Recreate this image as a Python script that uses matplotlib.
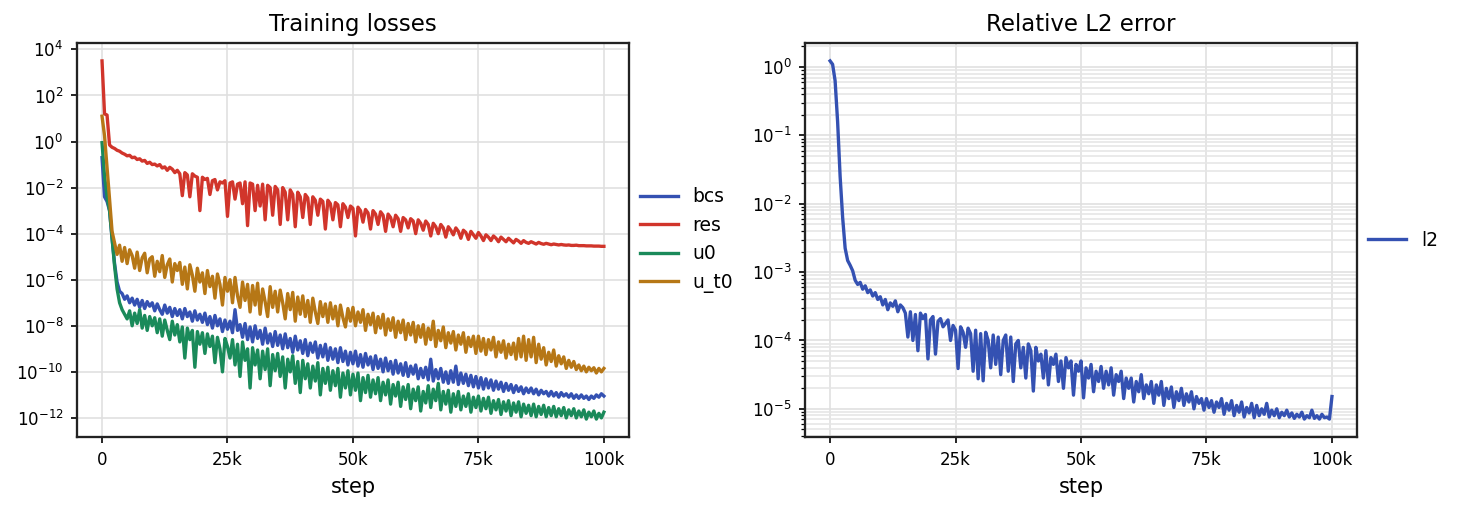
import numpy as np
import matplotlib
matplotlib.use("Agg")
import matplotlib.pyplot as plt
from matplotlib.ticker import FuncFormatter, LogLocator, NullLocator

# training steps (logged every 500 steps)
steps = np.arange(0, 100001, 500)

# log10 of each loss
bcs_log = [
    -0.70, -2.40, -2.60, -3.00, -4.20, -5.30, -6.10, -6.50, -6.60, -6.85,
    -6.70, -7.00, -6.80, -7.10, -6.85, -7.20, -6.90, -7.25, -6.95, -7.15,
    -7.00, -7.35, -7.05, -7.30, -7.50, -7.10, -7.45, -7.20, -7.60, -7.25,
    -7.55, -7.30, -7.70, -7.25, -7.60, -7.40, -7.80, -7.35, -7.75, -7.50,
    -7.85, -7.45, -7.95, -7.60, -8.10, -7.55, -8.00, -7.70, -8.25, -7.75,
    -8.15, -7.80, -8.30, -7.30, -8.20, -7.95, -8.50, -7.90, -8.60, -8.05,
    -8.70, -8.00, -8.55, -8.20, -8.80, -8.10, -8.75, -8.35, -8.90, -8.25,
    -8.85, -8.40, -9.00, -8.35, -8.95, -8.55, -9.15, -8.45, -9.05, -8.65,
    -9.20, -8.60, -9.30, -8.75, -9.15, -8.70, -9.40, -8.85, -9.35, -8.80,
    -9.50, -8.95, -9.45, -9.00, -9.60, -8.95, -9.55, -9.10, -9.70, -9.15,
    -9.65, -9.10, -9.75, -9.25, -9.80, -9.20, -9.70, -9.35, -9.90, -9.30,
    -9.85, -9.45, -10.00, -9.40, -9.95, -9.55, -10.10, -9.50, -10.05, -9.65,
    -10.15, -9.60, -10.20, -9.75, -10.10, -9.70, -10.30, -9.85, -10.25, -9.80,
    -10.35, -9.45, -10.40, -9.90, -10.30, -9.85, -10.45, -10.00, -10.50, -9.95,
    -10.45, -9.75, -10.55, -10.05, -10.50, -10.10, -10.60, -10.15, -10.65, -10.20,
    -10.70, -10.25, -10.75, -10.30, -10.70, -10.35, -10.80, -10.40, -10.75, -10.45,
    -10.85, -10.50, -10.80, -10.55, -10.90, -10.60, -10.85, -10.65, -10.95, -10.70,
    -10.90, -10.70, -10.95, -10.75, -11.00, -10.80, -10.95, -10.85, -11.05, -10.85,
    -11.05, -10.90, -11.10, -10.90, -11.05, -10.95, -11.10, -10.95, -11.15, -11.00,
    -11.15, -11.00, -11.15, -11.05, -11.20, -11.05, -11.15, -11.00, -11.10, -10.95,
    -11.05,
]

res_log = [
    3.50, 1.20, 1.15, -0.15, -0.25, -0.30, -0.38, -0.42, -0.50, -0.55,
    -0.62, -0.60, -0.70, -0.68, -0.78, -0.75, -0.85, -0.82, -0.95, -0.90,
    -1.00, -0.98, -1.06, -1.00, -1.15, -1.10, -1.25, -1.12, -1.20, -1.35,
    -1.25, -1.40, -2.35, -1.35, -1.45, -2.40, -1.40, -1.50, -1.55, -3.00,
    -1.55, -1.65, -1.60, -2.30, -1.70, -1.65, -2.10, -1.75, -1.80, -1.70,
    -3.25, -1.80, -1.75, -2.50, -1.85, -1.80, -2.70, -1.75, -3.65, -1.80,
    -1.85, -3.00, -1.90, -2.80, -1.85, -3.40, -1.90, -2.00, -3.20, -1.95,
    -2.10, -3.60, -2.00, -2.20, -3.40, -2.10, -2.30, -3.70, -2.20, -2.40,
    -3.30, -2.30, -2.45, -3.60, -2.40, -2.55, -3.20, -2.50, -2.60, -3.80,
    -2.55, -2.70, -3.40, -2.65, -2.75, -3.70, -2.70, -2.85, -3.30, -2.80,
    -2.90, -4.10, -2.85, -3.00, -3.50, -2.95, -3.10, -3.80, -3.00, -3.15,
    -3.60, -3.05, -3.20, -3.90, -3.15, -3.30, -3.70, -3.20, -3.35, -3.90,
    -3.30, -3.40, -3.75, -3.35, -3.45, -4.00, -3.40, -3.55, -3.85, -3.45,
    -3.60, -4.10, -3.55, -3.70, -4.00, -3.60, -3.75, -4.15, -3.70, -3.85,
    -4.05, -3.75, -3.90, -4.20, -3.85, -3.95, -4.25, -3.90, -4.05, -4.20,
    -3.95, -4.10, -4.30, -4.05, -4.15, -4.30, -4.10, -4.20, -4.35, -4.15,
    -4.25, -4.35, -4.20, -4.30, -4.40, -4.25, -4.32, -4.42, -4.30, -4.38,
    -4.42, -4.35, -4.40, -4.45, -4.38, -4.43, -4.46, -4.42, -4.45, -4.48,
    -4.45, -4.47, -4.49, -4.47, -4.49, -4.50, -4.49, -4.51, -4.51, -4.50,
    -4.52, -4.52, -4.52, -4.53, -4.53, -4.53, -4.54, -4.54, -4.54, -4.55,
    -4.55,
]

u0_log = [
    -0.05, -1.50, -2.40, -3.00, -4.20, -5.40, -6.40, -7.00, -7.30, -7.50,
    -7.70, -7.35, -8.00, -7.45, -7.90, -7.30, -8.10, -7.55, -8.20, -7.60,
    -8.00, -7.65, -8.30, -7.70, -8.45, -7.75, -8.20, -8.60, -7.80, -8.40,
    -7.95, -8.70, -8.05, -9.40, -8.10, -8.60, -8.20, -9.80, -8.25, -8.80,
    -8.30, -9.20, -8.35, -8.90, -8.45, -9.60, -8.50, -9.00, -10.00, -8.55,
    -8.90, -9.40, -8.60, -9.70, -8.80, -10.20, -8.70, -9.50, -9.00, -10.70,
    -8.95, -9.70, -9.05, -10.30, -9.10, -9.90, -9.00, -10.60, -9.25, -9.95,
    -9.20, -10.20, -9.35, -10.70, -9.45, -10.00, -9.30, -10.50, -9.55, -10.90,
    -9.50, -10.30, -9.65, -10.70, -9.75, -10.40, -9.60, -11.00, -9.85, -10.50,
    -9.80, -10.80, -9.95, -10.60, -9.85, -11.10, -10.05, -10.70, -9.95, -11.00,
    -10.10, -10.80, -10.05, -11.25, -10.25, -10.90, -10.15, -11.10, -10.35, -10.95,
    -10.25, -11.25, -10.45, -11.00, -10.35, -11.40, -10.55, -11.05, -10.45, -11.50,
    -10.65, -11.20, -10.55, -11.60, -10.75, -11.25, -10.65, -11.70, -10.85, -11.35,
    -10.60, -11.55, -10.75, -11.25, -10.50, -11.65, -10.85, -11.40, -10.80, -11.75,
    -10.95, -11.50, -10.85, -11.65, -11.05, -11.50, -10.95, -11.75, -11.10, -11.55,
    -11.05, -11.70, -11.15, -11.60, -11.10, -11.80, -11.25, -11.65, -11.20, -11.85,
    -11.30, -11.70, -11.25, -11.90, -11.35, -11.75, -11.30, -11.95, -11.40, -11.80,
    -11.45, -11.90, -11.40, -11.95, -11.50, -11.85, -11.45, -11.95, -11.55, -11.90,
    -11.50, -11.95, -11.60, -11.90, -11.55, -12.00, -11.65, -11.90, -11.60, -12.00,
    -11.70, -11.95, -11.65, -12.05, -11.75, -11.95, -11.70, -12.05, -11.80, -12.00,
    -11.75,
]

u_t0_log = [
    1.10, 0.25, -1.10, -2.50, -3.90, -4.40, -4.90, -4.50, -5.20, -4.60,
    -5.30, -4.70, -4.95, -5.50, -4.80, -5.60, -5.05, -4.85, -5.70, -5.10,
    -5.00, -5.85, -5.20, -5.65, -4.95, -5.90, -5.35, -5.10, -6.10, -5.30,
    -5.60, -5.25, -6.20, -5.45, -6.40, -5.35, -5.80, -6.50, -5.50, -6.10,
    -5.70, -6.60, -5.60, -6.30, -5.85, -6.80, -5.75, -6.20, -7.10, -5.90,
    -6.50, -6.00, -7.00, -5.90, -6.70, -7.20, -6.10, -6.90, -6.20, -7.40,
    -6.25, -7.10, -6.15, -7.50, -6.40, -6.95, -7.60, -6.30, -7.20, -6.50,
    -7.40, -6.45, -7.00, -7.70, -6.60, -7.30, -6.55, -7.80, -6.75, -7.50,
    -6.70, -7.60, -6.90, -7.85, -6.80, -7.40, -7.90, -6.95, -7.60, -7.05,
    -7.85, -7.00, -7.70, -7.15, -8.00, -7.10, -7.65, -8.05, -7.25, -7.80,
    -7.20, -8.00, -7.40, -7.85, -7.30, -8.20, -7.50, -7.95, -7.45, -8.30,
    -7.60, -8.10, -7.50, -8.40, -7.70, -8.20, -7.65, -8.50, -7.80, -8.30,
    -7.75, -8.60, -7.90, -8.40, -7.85, -8.70, -8.00, -8.50, -7.95, -8.80,
    -8.10, -8.60, -7.80, -8.90, -8.20, -8.65, -8.05, -8.95, -8.30, -8.75,
    -8.25, -9.05, -8.40, -8.80, -8.30, -9.15, -8.50, -8.90, -8.45, -9.20,
    -8.45, -9.10, -8.55, -9.25, -8.60, -9.05, -8.50, -9.35, -8.70, -9.15,
    -8.65, -9.40, -8.80, -9.25, -8.75, -9.45, -8.55, -9.35, -8.45, -9.50,
    -8.60, -9.35, -8.50, -9.60, -8.80, -9.45, -8.95, -9.70, -9.15, -9.55,
    -9.05, -9.75, -9.30, -9.65, -9.35, -9.85, -9.50, -9.80, -9.55, -9.90,
    -9.70, -9.95, -9.75, -10.00, -9.80, -9.95, -9.82, -10.05, -9.85, -10.00,
    -9.85,
]

l2_log = [
    0.09, 0.04, -0.20, -0.80, -1.60, -2.20, -2.65, -2.83, -2.90, -2.98,
    -3.12, -3.18, -3.15, -3.25, -3.20, -3.30, -3.26, -3.35, -3.30, -3.40,
    -3.36, -3.48, -3.40, -3.55, -3.45, -3.50, -3.42, -3.58, -3.48, -3.52,
    -3.60, -3.95, -3.58, -4.00, -3.62, -4.15, -3.60, -3.68, -3.62, -4.27,
    -3.70, -3.65, -4.20, -3.72, -3.68, -3.80, -3.75, -3.70, -4.00, -3.78,
    -3.85, -4.41, -3.80, -3.88, -4.10, -3.82, -3.90, -4.45, -3.85, -4.56,
    -3.90, -4.59, -3.88, -4.00, -4.40, -3.92, -4.35, -3.95, -4.50, -4.00,
    -3.92, -4.45, -3.95, -4.60, -4.05, -4.00, -4.40, -4.10, -4.55, -4.05,
    -4.15, -4.74, -4.10, -4.30, -4.20, -4.55, -4.15, -4.65, -4.25, -4.35,
    -4.20, -4.60, -4.30, -4.70, -4.25, -4.40, -4.30, -4.80, -4.35, -4.45,
    -4.30, -4.84, -4.40, -4.55, -4.35, -4.75, -4.45, -4.60, -4.38, -4.70,
    -4.45, -4.65, -4.40, -4.80, -4.50, -4.60, -4.45, -4.85, -4.55, -4.70,
    -4.55, -4.90, -4.60, -4.75, -4.50, -4.85, -4.65, -4.78, -4.60, -4.92,
    -4.65, -4.80, -4.60, -4.95, -4.70, -4.85, -4.68, -4.98, -4.75, -4.88,
    -4.70, -4.95, -4.78, -4.90, -4.75, -5.00, -4.82, -4.92, -4.85, -5.02,
    -4.85, -4.98, -4.88, -5.05, -4.90, -4.98, -4.85, -5.08, -4.92, -5.02,
    -4.88, -5.10, -4.95, -5.05, -4.90, -5.12, -4.98, -5.06, -4.92, -5.13,
    -4.95, -5.10, -5.00, -5.08, -4.92, -5.12, -5.02, -5.10, -5.00, -5.13,
    -5.05, -5.10, -5.02, -5.12, -5.06, -5.14, -5.08, -5.12, -5.05, -5.15,
    -5.10, -5.13, -5.02, -5.14, -5.10, -5.15, -5.08, -5.13, -5.12, -5.15,
    -4.82,
]

loss_names = ["bcs", "res", "u0", "u_t0"]
loss_colors = ["#3451b2", "#d1352b", "#1a8a5a", "#b67716"]
l2_color = "#3451b2"

plt.rcParams["font.family"] = "DejaVu Sans"
plt.rcParams["axes.edgecolor"] = "#222222"
plt.rcParams["axes.linewidth"] = 1.1

fig = plt.figure(figsize=(1457 / 150, 512 / 150), dpi=150)
ax1 = fig.add_axes([0.0528, 0.1465, 0.3789, 0.7695])
ax2 = fig.add_axes([0.5525, 0.1465, 0.3789, 0.7695])

k_fmt = FuncFormatter(lambda v, p: "0" if v == 0 else f"{v / 1000:.0f}k")

# 子图 1: training losses
for name, col, vals in zip(loss_names, loss_colors, [bcs_log, res_log, u0_log, u_t0_log]):
    ax1.plot(steps, 10.0 ** np.array(vals), color=col, lw=1.6, label=name)
ax1.set_yscale("log")
ax1.set_yticks([10.0 ** e for e in range(4, -13, -2)])
ax1.yaxis.set_minor_locator(NullLocator())
ax1.set_title("Training losses", fontsize=11)
ax1.legend(loc="center left", bbox_to_anchor=(1.0, 0.5), frameon=False,
           fontsize=9, borderaxespad=0.2, handlelength=2.0)

# 子图 2: relative L2 error
ax2.plot(steps, 10.0 ** np.array(l2_log), color=l2_color, lw=1.6, label="l2")
ax2.set_yscale("log")
ax2.yaxis.set_minor_locator(LogLocator(base=10, subs=np.arange(2, 10), numticks=20))
ax2.grid(True, which="minor", axis="y", color="#e6e6e6", lw=0.8)
ax2.set_title("Relative L2 error", fontsize=11)
ax2.legend(loc="center left", bbox_to_anchor=(1.0, 0.5), frameon=False,
           fontsize=9, borderaxespad=0.2, handlelength=2.0)

for ax in (ax1, ax2):
    ax.set_xticks([0, 25000, 50000, 75000, 100000])
    ax.xaxis.set_major_formatter(k_fmt)
    ax.set_xlabel("step", fontsize=10)
    ax.grid(True, which="major", color="#e0e0e0", lw=0.8)
    ax.set_axisbelow(True)
    ax.tick_params(which="major", labelsize=8, length=3, width=0.8)
    ax.tick_params(which="minor", length=2, width=0.6)

fig.savefig("out.png", dpi=150)
